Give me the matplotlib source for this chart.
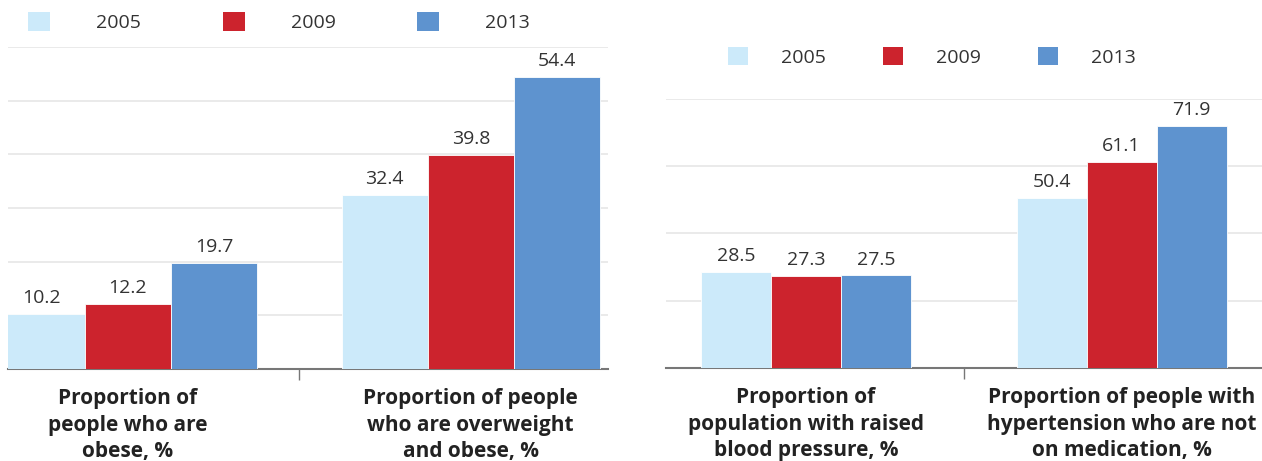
import numpy as np
import matplotlib.pyplot as plt
from matplotlib.patches import Patch

plt.rcParams['font.family'] = ['Open Sans', 'DejaVu Sans']

years = ['2005', '2009', '2013']
colors = ['#CCEAFA', '#CC232D', '#5E93CF']

# left panel: weight
weight_labels = ['Proportion of\npeople who are\nobese, %',
                 'Proportion of people\nwho are overweight\nand obese, %']
weight_2005 = [10.2, 32.4]
weight_2009 = [12.2, 39.8]
weight_2013 = [19.7, 54.4]

# right panel: blood pressure
bp_labels = ['Proportion of\npopulation with raised\nblood pressure, %',
             'Proportion of people with\nhypertension who are not\non medication, %']
bp_2005 = [28.5, 50.4]
bp_2009 = [27.3, 61.1]
bp_2013 = [27.5, 71.9]

fig = plt.figure(figsize=(12.62, 4.61), dpi=100)
ax1 = fig.add_axes([0.0063, 0.1996, 0.4754, 0.6985])
ax2 = fig.add_axes([0.5277, 0.2017, 0.4723, 0.5840])


def draw(ax, series, labels, width, ylim, step, xlim):
    x = np.arange(len(labels))
    for i, vals in enumerate(series):
        bars = ax.bar(x + (i - 1) * width, vals, width, color=colors[i],
                      edgecolor='white', linewidth=0.6, zorder=3)
        ax.bar_label(bars, fmt='%.1f', padding=5, fontsize=14, color='#333333')
    ax.set_ylim(0, ylim)
    ax.set_xlim(*xlim)
    ax.set_yticks(np.arange(step, ylim + 1, step))
    ax.yaxis.grid(True, color='#E6E6E6', linewidth=1.2, zorder=0)
    ax.tick_params(axis='y', length=0, labelleft=False)
    ax.set_xticks(x)
    ax.set_xticklabels(labels, fontsize=15, fontweight='bold', color='#222222',
                       linespacing=1.32)
    ax.set_xticks([0.5], minor=True)
    ax.tick_params(axis='x', which='major', length=0, pad=14)
    ax.tick_params(axis='x', which='minor', length=8, width=1, color='#777777')
    for s in ['top', 'right', 'left']:
        ax.spines[s].set_visible(False)
    ax.spines['bottom'].set_color('#777777')
    ax.spines['bottom'].set_linewidth(1.5)
    ax.set_axisbelow(True)


draw(ax1, [weight_2005, weight_2009, weight_2013], weight_labels, 0.251, 60, 10,
     (-0.35, 1.40))
draw(ax2, [bp_2005, bp_2009, bp_2013], bp_labels, 0.222, 80, 20,
     (-0.444, 1.445))

handles = [Patch(facecolor=c, edgecolor='none') for c in colors]
fig.legend(handles, years, loc='center left', bbox_to_anchor=(28 / 1262, 1 - 22 / 461),
           ncol=3, frameon=False, fontsize=14, handlelength=1.13, handleheight=1.13,
           handletextpad=2.37, columnspacing=4.2, borderpad=0, borderaxespad=0,
           labelcolor='#333333')
fig.legend(handles, years, loc='center left', bbox_to_anchor=(728 / 1262, 1 - 57 / 461),
           ncol=3, frameon=False, fontsize=14, handlelength=1.03, handleheight=1.03,
           handletextpad=1.7, columnspacing=2.94, borderpad=0, borderaxespad=0,
           labelcolor='#333333')

fig.savefig('out.png', dpi=100)
